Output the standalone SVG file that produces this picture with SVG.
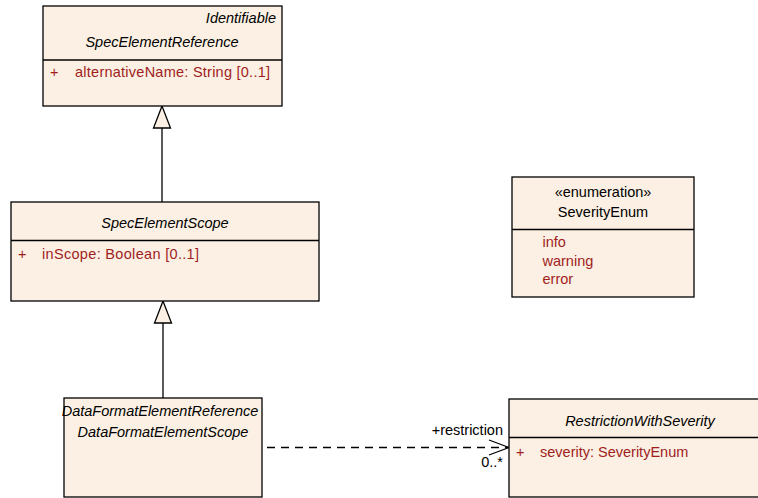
<svg xmlns="http://www.w3.org/2000/svg" width="758" height="498" viewBox="0 0 758 498">
<style>
.box{fill:#FBF0E3;stroke:#000;stroke-width:1.3}
.div{stroke:#000;stroke-width:1.3}
text{font-family:"Liberation Sans",Arial,sans-serif;font-size:14.5px;fill:#000}
.it{font-style:italic}
.at{fill:#A01E1E}
.c{text-anchor:middle}
.r{text-anchor:end}
.gen{fill:#FBF0E3;stroke:#000;stroke-width:1.3}
.ln{stroke:#000;stroke-width:1.3;fill:none}
</style>
<rect width="758" height="498" fill="#fff"/>
<g id="connectors">
<line class="ln" x1="162" y1="128" x2="162" y2="202"/>
<polygon class="gen" points="162,106 153.5,128 170.5,128"/>
<line class="ln" x1="163" y1="323" x2="163" y2="398"/>
<polygon class="gen" points="163,301 154.5,323 171.5,323"/>
<line class="ln" x1="267" y1="447.5" x2="508" y2="447.5" stroke-dasharray="8,6"/>
<polyline class="ln" points="489,440 509,447.5 489,455"/>
<text class="r" x="503" y="435">+restriction</text>
<text class="r" x="503" y="467">0..*</text>
</g>
<g id="SpecElementReference">
<rect class="box" x="43" y="6" width="239" height="100"/>
<line class="div" x1="43" y1="60" x2="282" y2="60"/>
<text class="it r" x="276" y="23">Identifiable</text>
<text class="it c" x="162" y="47">SpecElementReference</text>
<text class="at" x="50" y="77">+</text>
<text class="at" x="75" y="77" textLength="195" lengthAdjust="spacing">alternativeName: String [0..1]</text>
</g>
<g id="SpecElementScope">
<rect class="box" x="11" y="202" width="308" height="99"/>
<line class="div" x1="11" y1="240.5" x2="319" y2="240.5"/>
<text class="it c" x="165" y="228">SpecElementScope</text>
<text class="at" x="18" y="259">+</text>
<text class="at" x="42" y="259" textLength="157" lengthAdjust="spacing">inScope: Boolean [0..1]</text>
</g>
<g id="DataFormatElementScope">
<rect class="box" x="64" y="398" width="198" height="99"/>
<text class="it c" x="160" y="416">DataFormatElementReference</text>
<text class="it c" x="163" y="437">DataFormatElementScope</text>
</g>
<g id="SeverityEnum">
<rect class="box" x="512" y="177" width="182" height="120"/>
<line class="div" x1="512" y1="229.5" x2="694" y2="229.5"/>
<text class="c" x="603" y="197">«enumeration»</text>
<text class="c" x="603" y="217">SeverityEnum</text>
<text class="at" x="542.5" y="247">info</text>
<text class="at" x="542.5" y="265.5">warning</text>
<text class="at" x="542.5" y="283.5">error</text>
</g>
<g id="RestrictionWithSeverity">
<rect class="box" x="509" y="399" width="260" height="98"/>
<line class="div" x1="509" y1="437.5" x2="769" y2="437.5"/>
<text class="it c" x="640" y="426">RestrictionWithSeverity</text>
<text class="at" x="516" y="457">+</text>
<text class="at" x="540" y="457">severity: SeverityEnum</text>
</g>
</svg>
